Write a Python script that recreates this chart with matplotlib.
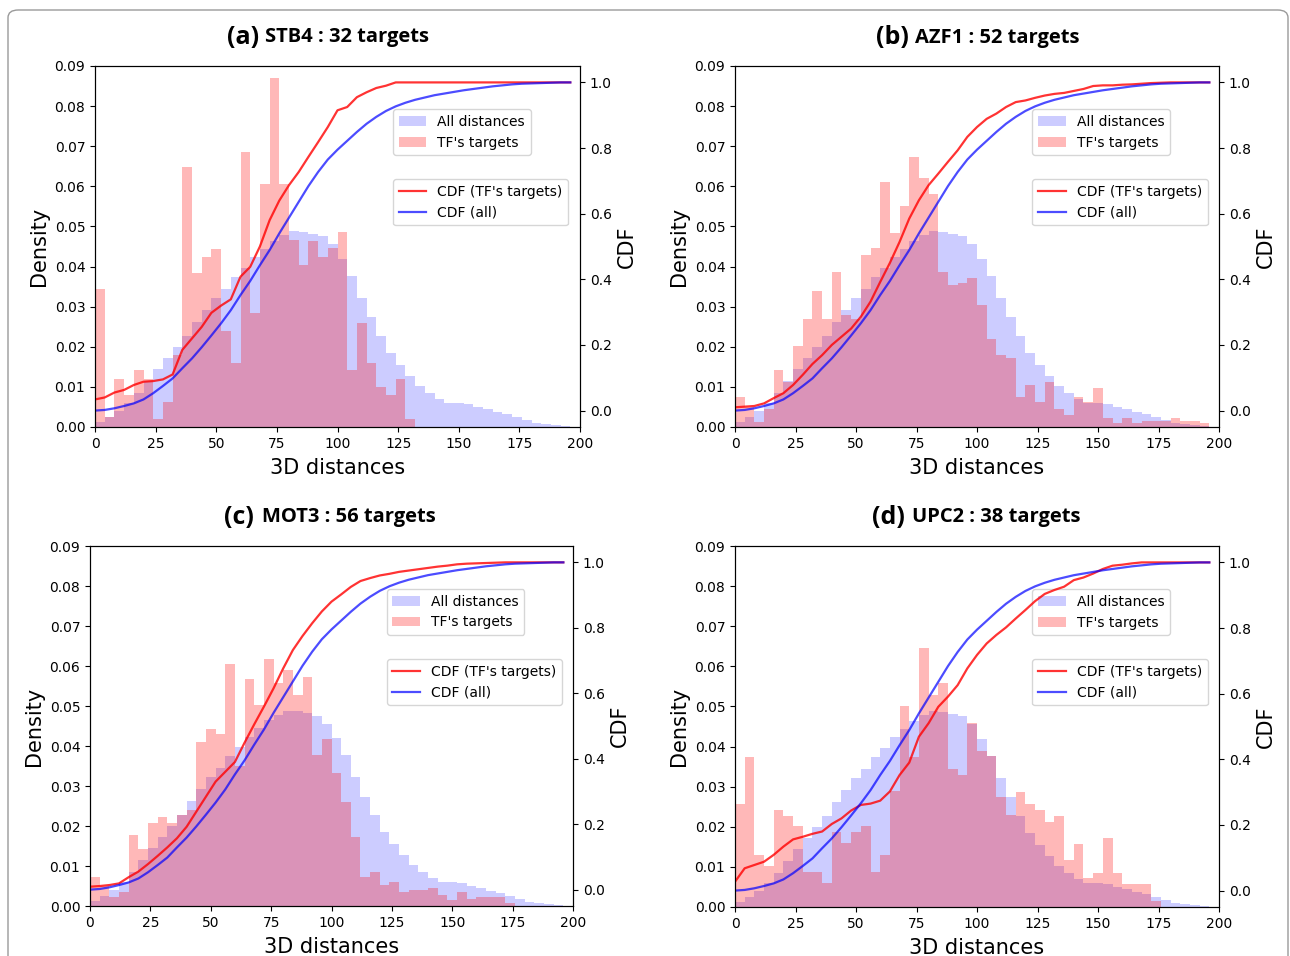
import numpy as np
import matplotlib.pyplot as plt
from matplotlib.patches import FancyBboxPatch

# 50 bins of width 4 between 0 and 200
bin_edges = np.arange(0, 201, 4)
cdf_x = np.arange(0, 200, 4)

# histogram of all 3D distances (same background in every panel)
all_density = [
    0.0012, 0.0025, 0.0040, 0.0060, 0.0086, 0.0115, 0.0145, 0.0173, 0.0200, 0.0228,
    0.0262, 0.0292, 0.0322, 0.0345, 0.0374, 0.0397, 0.0423, 0.0445, 0.0464, 0.0478,
    0.0488, 0.0487, 0.0482, 0.0475, 0.0455, 0.0420, 0.0377, 0.0322, 0.0273, 0.0227,
    0.0184, 0.0155, 0.0128, 0.0102, 0.0086, 0.0069, 0.0060, 0.0060, 0.0057, 0.0050,
    0.0044, 0.0038, 0.0032, 0.0026, 0.0017, 0.0011, 0.0007, 0.0004, 0.0002, 0.0001]

all_cdf = [
    0.000, 0.002, 0.007, 0.014, 0.022, 0.034, 0.053, 0.075, 0.098, 0.129,
    0.159, 0.193, 0.229, 0.266, 0.306, 0.352, 0.395, 0.443, 0.489, 0.540,
    0.588, 0.636, 0.684, 0.727, 0.765, 0.795, 0.822, 0.849, 0.874, 0.895,
    0.913, 0.927, 0.938, 0.947, 0.954, 0.961, 0.966, 0.971, 0.976, 0.980,
    0.984, 0.988, 0.991, 0.994, 0.996, 0.997, 0.998, 0.999, 1.000, 1.000]

stb4_density = [
    0.0343, 0.0025, 0.0119, 0.0080, 0.0142, 0.0119, 0.0019, 0.0063, 0.0180, 0.0647,
    0.0383, 0.0425, 0.0444, 0.0240, 0.0160, 0.0686, 0.0283, 0.0606, 0.0869, 0.0606,
    0.0466, 0.0403, 0.0464, 0.0425, 0.0447, 0.0485, 0.0142, 0.0260, 0.0160, 0.0100,
    0.0080, 0.0120, 0.0020, 0, 0, 0, 0, 0, 0, 0,
    0, 0, 0, 0, 0, 0, 0, 0, 0, 0]

stb4_cdf = [
    0.034, 0.040, 0.055, 0.063, 0.078, 0.088, 0.090, 0.095, 0.110, 0.185,
    0.220, 0.255, 0.298, 0.320, 0.339, 0.408, 0.438, 0.500, 0.580, 0.640,
    0.687, 0.727, 0.773, 0.818, 0.864, 0.915, 0.925, 0.955, 0.970, 0.983,
    0.990, 1.000, 1.000, 1.000, 1.000, 1.000, 1.000, 1.000, 1.000, 1.000,
    1.000, 1.000, 1.000, 1.000, 1.000, 1.000, 1.000, 1.000, 1.000, 1.000]

azf1_density = [
    0.0075, 0.0050, 0.0013, 0.0045, 0.0143, 0.0112, 0.0203, 0.0270, 0.0340, 0.0270,
    0.0387, 0.0280, 0.0270, 0.0429, 0.0446, 0.0612, 0.0483, 0.0552, 0.0672, 0.0621,
    0.0580, 0.0387, 0.0353, 0.0360, 0.0371, 0.0305, 0.0220, 0.0180, 0.0173, 0.0075,
    0.0105, 0.0063, 0.0113, 0.0044, 0.0030, 0.0075, 0.0063, 0.0098, 0.0022, 0.0009,
    0.0022, 0.0009, 0.0016, 0.0016, 0.0016, 0.0022, 0.0016, 0.0016, 0.0009, 0]

azf1_cdf = [
    0.010, 0.012, 0.014, 0.022, 0.038, 0.053, 0.078, 0.109, 0.142, 0.169,
    0.200, 0.225, 0.250, 0.286, 0.332, 0.392, 0.450, 0.514, 0.585, 0.641,
    0.687, 0.722, 0.758, 0.793, 0.834, 0.864, 0.889, 0.905, 0.925, 0.940,
    0.945, 0.953, 0.960, 0.965, 0.968, 0.974, 0.980, 0.989, 0.991, 0.991,
    0.993, 0.994, 0.996, 0.998, 0.999, 1.000, 1.000, 1.000, 1.000, 1.000]

mot3_density = [
    0.0072, 0.0050, 0.0022, 0.0035, 0.0178, 0.0143, 0.0208, 0.0222, 0.0207, 0.0228,
    0.0240, 0.0410, 0.0442, 0.0430, 0.0605, 0.0350, 0.0567, 0.0502, 0.0617, 0.0558,
    0.0590, 0.0527, 0.0572, 0.0378, 0.0417, 0.0333, 0.0260, 0.0173, 0.0073, 0.0086,
    0.0052, 0.0060, 0.0034, 0.0040, 0.0040, 0.0046, 0.0027, 0.0015, 0.0034, 0.0017,
    0.0023, 0.0023, 0.0023, 0.0008, 0, 0, 0, 0, 0, 0]

mot3_cdf = [
    0.009, 0.011, 0.014, 0.019, 0.038, 0.055, 0.078, 0.103, 0.129, 0.157,
    0.192, 0.238, 0.284, 0.330, 0.360, 0.390, 0.449, 0.505, 0.559, 0.615,
    0.676, 0.732, 0.775, 0.814, 0.850, 0.880, 0.902, 0.925, 0.943, 0.952,
    0.960, 0.965, 0.971, 0.975, 0.979, 0.983, 0.987, 0.990, 0.994, 0.996,
    0.997, 0.998, 0.999, 1.000, 1.000, 1.000, 1.000, 1.000, 1.000, 1.000]

upc2_density = [
    0.0258, 0.0373, 0.0130, 0.0102, 0.0243, 0.0228, 0.0202, 0.0087, 0.0087, 0.0060,
    0.0187, 0.0160, 0.0187, 0.0202, 0.0087, 0.0129, 0.0288, 0.0500, 0.0373, 0.0645,
    0.0528, 0.0558, 0.0343, 0.0330, 0.0458, 0.0390, 0.0377, 0.0273, 0.0229, 0.0287,
    0.0257, 0.0243, 0.0213, 0.0228, 0.0116, 0.0157, 0.0072, 0.0086, 0.0172, 0.0086,
    0.0058, 0.0058, 0.0058, 0.0015, 0, 0, 0, 0, 0, 0]

upc2_cdf = [
    0.027, 0.068, 0.078, 0.088, 0.109, 0.134, 0.156, 0.164, 0.173, 0.180,
    0.203, 0.220, 0.244, 0.261, 0.265, 0.274, 0.302, 0.352, 0.390, 0.469,
    0.510, 0.560, 0.591, 0.626, 0.677, 0.718, 0.753, 0.779, 0.802, 0.829,
    0.855, 0.882, 0.904, 0.916, 0.926, 0.946, 0.954, 0.966, 0.980, 0.990,
    0.993, 0.997, 1.000, 1.000, 1.000, 1.000, 1.000, 1.000, 1.000, 1.000]

letters = ['(a)', '(b)', '(c)', '(d)']
tf_names = ['STB4', 'AZF1', 'MOT3', 'UPC2']
n_targets = [32, 52, 56, 38]
tf_density = [stb4_density, azf1_density, mot3_density, upc2_density]
tf_cdf = [stb4_cdf, azf1_cdf, mot3_cdf, upc2_cdf]

W, H = 1290, 956
fig = plt.figure(figsize=(W / 100, H / 100), dpi=100)

# axes boxes in pixels: left, right, top, bottom
boxes = [(95, 580, 66, 427), (735, 1219, 66, 427),
         (90, 573, 546, 906), (735, 1219, 546, 907)]
# where the bold letter ends / the rest of the title starts, and title height
title_pos = [(259, 265, 37), (909, 915, 38), (254, 262, 517), (905, 912, 517)]

for i in range(4):
    l, r, t, b = boxes[i]
    ax1 = fig.add_axes([l / W, 1 - b / H, (r - l) / W, (b - t) / H])
    ax2 = ax1.twinx()

    ax1.bar(bin_edges[:-1], all_density, width=4, align='edge', color='blue',
            alpha=0.2, linewidth=0, label='All distances')
    ax1.bar(bin_edges[:-1], tf_density[i], width=4, align='edge', color='red',
            alpha=0.28, linewidth=0, label="TF's targets")
    ax1.set_xlim(0, 200)
    ax1.set_ylim(0, 0.09)
    ax1.set_xticks(np.arange(0, 201, 25))
    ax1.set_yticks(np.arange(0, 0.091, 0.01))
    ax1.set_yticklabels(['%.2f' % v for v in np.arange(0, 0.091, 0.01)])
    ax1.tick_params(labelsize=10)
    ax1.set_xlabel('3D distances', fontsize=15, labelpad=5)
    ax1.set_ylabel('Density', fontsize=15)
    ax1.legend(loc='upper left', bbox_to_anchor=(0.6, 0.9), fontsize=10)

    ax2.plot(cdf_x, tf_cdf[i], color='red', alpha=0.8, lw=1.6, label="CDF (TF's targets)")
    ax2.plot(cdf_x, all_cdf, color='blue', alpha=0.7, lw=1.6, label='CDF (all)')
    ax2.set_ylim(-0.05, 1.05)
    ax2.set_yticks(np.arange(0, 1.01, 0.2))
    ax2.tick_params(labelsize=10)
    ax2.set_ylabel('CDF', fontsize=15)
    ax2.legend(loc='upper left', bbox_to_anchor=(0.6, 0.705), fontsize=10)

    x_end, x_start, ty = title_pos[i]
    fig.text(x_end / W, 1 - ty / H, letters[i], ha='right', va='center',
             fontsize=18, fontweight='bold', family='Open Sans')
    fig.text(x_start / W, 1 - ty / H, '%s : %d targets' % (tf_names[i], n_targets[i]),
             ha='left', va='center', fontsize=14.5, fontweight='bold', family='Open Sans')

# thin rounded frame around the whole figure
frame = FancyBboxPatch((8 / W, -0.02), 1280 / W, 1 - 10 / H + 0.02,
                       boxstyle='round,pad=0,rounding_size=0.008',
                       transform=fig.transFigure, fill=False,
                       edgecolor='#9a9a9a', linewidth=1)
fig.patches.append(frame)

fig.savefig('out.png', dpi=100)
